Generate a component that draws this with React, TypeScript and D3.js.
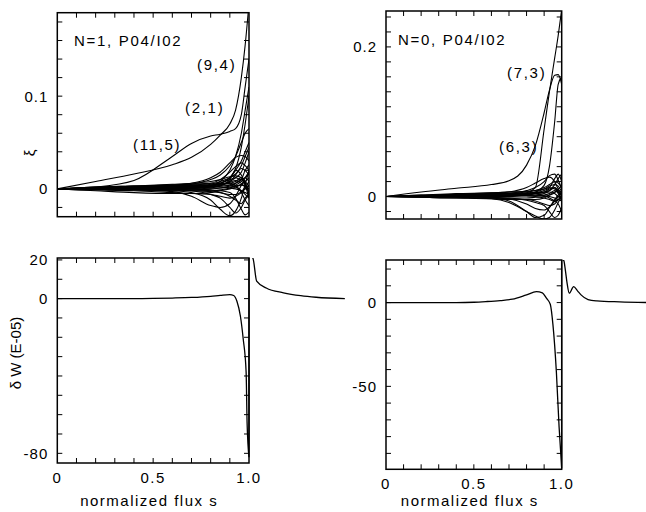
import React from 'react';
import * as d3 from 'd3';

// Radial sample points of the normalized flux s used by every displacement profile
const S_GRID = [0, 0.2, 0.4, 0.6, 0.7, 0.8, 0.85, 0.9, 0.93, 0.96, 0.98, 1.0];

// ξ profiles, N=1 family (one row per Fourier harmonic)
const XI_N1: number[][] = [
  [0, 0.008, 0.016, 0.026, 0.034, 0.048, 0.058, 0.07, 0.085, 0.12, 0.155, 0.2],
  [0, 0.002, 0.009, 0.035, 0.049, 0.057, 0.059, 0.062, 0.065, 0.08, 0.11, 0.14],
  [0, 0, 0, 0, 0.001, 0.003, 0.008, 0.02, 0.035, 0.06, 0.085, 0.11],
  [0, 0, 0, 0, 0.001, 0.003, 0.006, 0.012, 0.022, 0.045, 0.07, 0.1],
  [0, 0, 0.001, 0.003, 0.005, 0.01, 0.015, 0.025, 0.035, 0.05, 0.06, 0.065],
  [0, 0.001, 0.002, 0.004, 0.006, 0.012, 0.018, 0.028, 0.034, 0.036, 0.035, 0.03],
  [0, 0.001, 0.002, 0.003, 0.004, 0.006, 0.01, 0.018, 0.024, 0.028, 0.025, 0.02],
  [0, 0, 0.001, 0.002, 0.003, 0.005, 0.008, 0.012, 0.016, 0.022, 0.02, 0.015],
  [0, 0, 0, 0.001, 0.002, 0.004, 0.006, 0.01, 0.012, 0.01, 0.012, 0.008],
  [0, 0, 0, 0, -0.001, -0.002, -0.004, -0.008, -0.012, -0.016, -0.01, -0.005],
  [0, -0.001, -0.002, -0.004, -0.005, -0.006, -0.008, -0.01, -0.008, -0.004, 0, 0.004],
  [0, 0, -0.001, -0.002, -0.004, -0.012, -0.022, -0.029, -0.024, -0.01, 0.005, 0.02],
  [0, 0, -0.001, -0.003, -0.008, -0.018, -0.02, -0.016, -0.008, 0.004, 0.012, 0.018],
  [0, 0, 0, -0.001, -0.002, -0.006, -0.01, -0.02, -0.026, -0.02, -0.012, -0.006],
  [0, 0.001, 0.001, 0.002, 0.003, 0.004, 0.006, 0.012, 0.02, 0.03, 0.04, 0.05],
  [0, 0, 0.001, 0.001, 0.002, 0.003, 0.005, 0.008, 0.015, 0.025, 0.035, 0.045],
  [0, 0, 0, 0.001, 0.001, 0.002, 0.004, 0.006, 0.004, -0.004, -0.012, -0.018],
  [0, 0, 0, 0, 0.001, 0.002, 0.003, 0.004, 0.006, 0.01, 0.02, 0.026],
  [0, -0.002, -0.004, -0.005, -0.005, -0.004, -0.002, 0, 0.002, 0.004, 0.003, 0],
  [0, 0.002, 0.003, 0.004, 0.005, 0.006, 0.006, 0.005, 0.002, -0.002, -0.006, -0.01],
  [0, 0, 0, 0, 0, 0.001, 0.003, 0.01, 0.02, 0.015, 0.005, -0.005],
  [0, 0, 0, 0, 0, -0.001, -0.002, -0.004, -0.01, -0.022, -0.028, -0.025],
  [0, 0, 0, 0, 0.001, 0.002, 0.004, 0.008, 0.012, 0.018, 0.028, 0.04],
  [0, 0.001, 0.002, 0.003, 0.003, 0.003, 0.002, 0.001, 0, -0.002, -0.004, -0.006],
  [0, -0.001, -0.001, -0.002, -0.002, -0.002, -0.001, 0.001, 0.004, 0.008, 0.012, 0.016],
  [0, 0.002, 0.003, 0.004, 0.004, 0.004, 0.005, 0.006, 0.008, 0.012, 0.006, -0.004],
  [0, 0.001, 0.002, 0.002, 0.003, 0.004, 0.005, 0.007, 0.009, 0.006, 0.002, 0],
  [0, -0.001, -0.001, -0.001, -0.001, 0, 0.001, 0.003, 0.006, 0.01, 0.004, -0.01],
  [0, 0.001, 0.001, 0.001, 0.001, 0.001, 0.001, 0.002, 0.003, 0.005, 0.008, 0.012],
  [0, 0, -0.001, -0.001, -0.002, -0.003, -0.004, -0.006, -0.006, -0.003, 0.002, 0.008],
  [0, 0.001, 0.003, 0.005, 0.006, 0.008, 0.01, 0.013, 0.014, 0.012, 0.008, 0.002],
];

// ξ profiles, N=0 family
const XI_N0: number[][] = [
  [0, 0, 0, 0.001, 0.002, 0.005, 0.012, 0.09, 0.14, 0.185, 0.215, 0.25],
  [0, 0.006, 0.011, 0.016, 0.021, 0.042, 0.068, 0.112, 0.142, 0.162, 0.163, 0.15],
  [0, 0, 0, 0, 0.001, 0.003, 0.006, 0.015, 0.04, 0.1, 0.15, 0.16],
  [0, 0, 0, -0.002, -0.006, -0.02, -0.028, -0.025, -0.015, -0.004, 0.002, 0.005],
  [0, 0, -0.001, -0.003, -0.008, -0.02, -0.026, -0.03, -0.028, -0.018, -0.008, 0],
  [0, 0, 0, -0.001, -0.003, -0.01, -0.016, -0.018, -0.014, -0.006, 0, 0.004],
  [0, 0, 0, -0.001, -0.002, -0.005, -0.008, -0.012, -0.02, -0.028, -0.025, -0.015],
  [0, 0.001, 0.002, 0.004, 0.006, 0.012, 0.018, 0.024, 0.026, 0.02, 0.01, 0.005],
  [0, 0, 0.001, 0.002, 0.004, 0.008, 0.012, 0.02, 0.028, 0.03, 0.022, 0.01],
  [0, 0.001, 0.002, 0.003, 0.004, 0.006, 0.008, 0.012, 0.016, 0.02, 0.018, 0.012],
  [0, 0, 0, 0.001, 0.002, 0.003, 0.005, 0.008, 0.012, 0.024, 0.03, 0.02],
  [0, -0.001, -0.002, -0.003, -0.004, -0.004, -0.004, -0.002, 0.002, 0.006, 0.008, 0.004],
  [0, 0.001, 0.002, 0.002, 0.002, 0.001, 0, -0.002, -0.004, -0.006, -0.004, -0.002],
  [0, 0, 0, 0, 0.001, 0.002, 0.004, 0.006, 0.01, 0.012, 0.008, 0],
  [0, -0.001, -0.002, -0.002, -0.003, -0.004, -0.006, -0.01, -0.012, -0.01, -0.004, 0],
  [0, 0.002, 0.004, 0.005, 0.006, 0.006, 0.004, 0.001, -0.002, -0.006, -0.01, -0.02],
  [0, 0, 0, 0, 0, 0.001, 0.002, 0.004, 0.008, 0.016, 0.024, 0.03],
  [0, 0, 0, 0.001, 0.002, 0.004, 0.006, 0.01, 0.014, 0.016, 0.014, 0.006],
  [0, 0.001, 0.002, 0.003, 0.003, 0.003, 0.002, 0.001, 0, -0.002, -0.004, -0.006],
  [0, 0.002, 0.003, 0.004, 0.004, 0.004, 0.005, 0.006, 0.008, 0.012, 0.006, -0.004],
  [0, 0.001, 0.003, 0.005, 0.006, 0.007, 0.008, 0.01, 0.012, 0.01, 0.006, 0.002],
  [0, 0.001, 0.001, 0.002, 0.002, 0.003, 0.004, 0.005, 0.006, 0.004, 0, -0.004],
  [0, -0.001, -0.001, -0.002, -0.002, -0.002, -0.001, 0, 0.002, 0.005, 0.01, 0.014],
  [0, 0, 0.001, 0.001, 0.001, 0.001, 0.001, 0.002, 0.004, 0.008, 0.004, -0.006],
];

// δW (E-05), N=1: plasma part and vacuum part
const DW_N1_PLASMA_S = [0, 0.2, 0.4, 0.5, 0.6, 0.7, 0.8, 0.85, 0.9, 0.92, 0.937, 0.955, 0.97, 0.985, 0.99, 1.0];
const DW_N1_PLASMA = [0, 0, 0, 0.1, 0.3, 0.6, 1.2, 1.7, 2.1, 1.6, -1.4, -9, -21, -38, -64, -82];
const DW_N1_VACUUM_S = [1.0, 1.02, 1.04, 1.09, 1.18, 1.27, 1.35, 1.5];
const DW_N1_VACUUM = [22, 21, 9, 5.5, 3, 1.5, 0.7, 0];

// δW (E-05), N=0
const DW_N0_PLASMA_S = [0, 0.2, 0.4, 0.5, 0.57, 0.65, 0.72, 0.8, 0.856, 0.89, 0.913, 0.935, 0.95, 0.97, 0.985, 1.0];
const DW_N0_PLASMA = [0, 0, 0, 0.2, 0.6, 1.2, 2, 4.6, 6.5, 5.8, 2.6, -1, -13, -42, -74, -99];
const DW_N0_VACUUM_S = [1.0, 1.012, 1.02, 1.03, 1.043, 1.068, 1.09, 1.11, 1.15, 1.2, 1.33, 1.5];
const DW_N0_VACUUM = [26, 25, 20, 12, 5.6, 9.5, 7, 4.6, 1.8, 1, 0.4, 0];

// Axis ticks and labels
const X_TICKS = [0.1, 0.2, 0.3, 0.4, 0.5, 0.6, 0.7, 0.8, 0.9];
const X_LABELS = [0, 0.5, 1.0];
const X_LABEL_TEXT = ['0', '0.5', '1.0'];
const TL_Y_TICKS = [-0.02, 0, 0.02, 0.04, 0.06, 0.08, 0.1, 0.12, 0.14, 0.16, 0.18];
const TL_Y_LABELS = [0, 0.1];
const TL_Y_TEXT = ['0', '0.1'];
const TR_Y_TICKS = [-0.02, 0, 0.02, 0.04, 0.06, 0.08, 0.1, 0.12, 0.14, 0.16, 0.18, 0.2, 0.22, 0.24];
const TR_Y_LABELS = [0, 0.2];
const TR_Y_TEXT = ['0', '0.2'];
const BL_Y_TICKS = [-80, -70, -60, -50, -40, -30, -20, -10, 0, 10, 20];
const BL_Y_LABELS = [-80, 0, 20];
const BL_Y_TEXT = ['-80', '0', '20'];
const BR_Y_TICKS = [-90, -80, -70, -60, -50, -40, -30, -20, -10, 0, 10, 20];
const BR_Y_LABELS = [-50, 0];
const BR_Y_TEXT = ['-50', '0'];

// Harmonic labels
const N1_MODES = ['(9,4)', '(2,1)', '(11,5)'];
const N1_MODE_POS = [[197, 70], [185, 113], [133, 150]];
const N0_MODES = ['(7,3)', '(6,3)'];
const N0_MODE_POS = [[507, 78], [499, 152]];

const W = 646;
const H = 512;
const FONT = "'Liberation Sans', Arial, Helvetica, sans-serif";

type Box = { x0: number; x1: number; y0: number; y1: number };

const TL: Box = { x0: 57.3, x1: 249, y0: 12.7, y1: 216.7 };
const TR: Box = { x0: 386, x1: 561.7, y0: 11, y1: 219 };
const BL: Box = { x0: 57.3, x1: 249, y0: 258, y1: 463 };
const BR: Box = { x0: 386, x1: 561.7, y0: 260, y1: 469.3 };

const TICK = 5;

function Frame({ box, x, y, yTicks }: { box: Box; x: d3.ScaleLinear<number, number>; y: d3.ScaleLinear<number, number>; yTicks: number[] }) {
  const items: React.ReactNode[] = [];
  X_TICKS.forEach((t, i) => {
    const px = x(t);
    items.push(<line key={`xb${i}`} x1={px} x2={px} y1={box.y1} y2={box.y1 - TICK} />);
    items.push(<line key={`xt${i}`} x1={px} x2={px} y1={box.y0} y2={box.y0 + TICK} />);
  });
  yTicks.forEach((t, i) => {
    const py = y(t);
    items.push(<line key={`yl${i}`} x1={box.x0} x2={box.x0 + TICK} y1={py} y2={py} />);
    items.push(<line key={`yr${i}`} x1={box.x1} x2={box.x1 - TICK} y1={py} y2={py} />);
  });
  return (
    <g stroke="#000" fill="none">
      <g strokeWidth={1}>{items}</g>
      <rect x={box.x0} y={box.y0} width={box.x1 - box.x0} height={box.y1 - box.y0} strokeWidth={1.5} />
    </g>
  );
}

function YLabels({ box, y, values, texts }: { box: Box; y: d3.ScaleLinear<number, number>; values: number[]; texts: string[] }) {
  return (
    <g fontFamily={FONT} fontSize={15} textAnchor="end" fill="#000" style={{ letterSpacing: '1px' }}>
      {values.map((v, i) => (
        <text key={i} x={box.x0 - 9} y={y(v)} dy="0.36em">{texts[i]}</text>
      ))}
    </g>
  );
}

function XLabels({ box, x }: { box: Box; x: d3.ScaleLinear<number, number> }) {
  return (
    <g fontFamily={FONT} fontSize={15} textAnchor="middle" fill="#000" style={{ letterSpacing: '1.5px' }}>
      {X_LABELS.map((v, i) => (
        <text key={i} x={x(v)} y={box.y1 + 20}>{X_LABEL_TEXT[i]}</text>
      ))}
      <text x={(box.x0 + box.x1) / 2 - 4} y={506}>normalized flux s</text>
    </g>
  );
}

export default function App() {
  const xL = d3.scaleLinear().domain([0, 1]).range([TL.x0, TL.x1]);
  const xR = d3.scaleLinear().domain([0, 1]).range([TR.x0, TR.x1]);
  const yTL = d3.scaleLinear().domain([-0.03, 0.19]).range([TL.y1, TL.y0]);
  const yTR = d3.scaleLinear().domain([-0.03, 0.248]).range([TR.y1, TR.y0]);
  const yBL = d3.scaleLinear().domain([-85, 21]).range([BL.y1, BL.y0]);
  const yBR = d3.scaleLinear().domain([-99.5, 25.4]).range([BR.y1, BR.y0]);

  const profile = (xs: d3.ScaleLinear<number, number>, ys: d3.ScaleLinear<number, number>) =>
    d3.line<[number, number]>().x((d) => xs(d[0])).y((d) => ys(d[1])).curve(d3.curveMonotoneX);

  const lineTL = profile(xL, yTL);
  const lineTR = profile(xR, yTR);
  const lineBL = profile(xL, yBL);
  const lineBR = profile(xR, yBR);

  const pairs = (s: number[], v: number[]) => s.map((d, i) => [d, v[i]] as [number, number]);

  const dwPath = (
    line: d3.Line<[number, number]>,
    xs: d3.ScaleLinear<number, number>,
    ys: d3.ScaleLinear<number, number>,
    ps: number[], pv: number[], vs: number[], vv: number[]
  ) => {
    const a = line(pairs(ps, pv)) || '';
    const b = line(pairs(vs, vv)) || '';
    const jump = `M${xs(ps[ps.length - 1])},${ys(pv[pv.length - 1])}L${xs(vs[0])},${ys(vv[0])}`;
    return a + jump + b;
  };

  return (
    <svg width={W} height={H} viewBox={`0 0 ${W} ${H}`} style={{ position: 'absolute', left: 0, top: 0, background: '#fff' }}>
      <defs>
        <clipPath id="clip-tl"><rect x={TL.x0} y={TL.y0} width={TL.x1 - TL.x0} height={TL.y1 - TL.y0} /></clipPath>
        <clipPath id="clip-tr"><rect x={TR.x0} y={TR.y0} width={TR.x1 - TR.x0} height={TR.y1 - TR.y0} /></clipPath>
        <clipPath id="clip-bl"><rect x={BL.x0} y={BL.y0} width={W - BL.x0} height={BL.y1 - BL.y0} /></clipPath>
        <clipPath id="clip-br"><rect x={BR.x0} y={BR.y0} width={W - BR.x0} height={BR.y1 - BR.y0} /></clipPath>
      </defs>
      <rect x={0} y={0} width={W} height={H} fill="#fff" />

      {/* ξ profiles, N=1 */}
      <g clipPath="url(#clip-tl)" fill="none" stroke="#000" strokeWidth={1.1}>
        {XI_N1.map((c, i) => (
          <path key={i} d={lineTL(pairs(S_GRID, c)) || ''} />
        ))}
      </g>
      <Frame box={TL} x={xL} y={yTL} yTicks={TL_Y_TICKS} />
      <YLabels box={TL} y={yTL} values={TL_Y_LABELS} texts={TL_Y_TEXT} />

      {/* ξ profiles, N=0 */}
      <g clipPath="url(#clip-tr)" fill="none" stroke="#000" strokeWidth={1.1}>
        {XI_N0.map((c, i) => (
          <path key={i} d={lineTR(pairs(S_GRID, c)) || ''} />
        ))}
      </g>
      <Frame box={TR} x={xR} y={yTR} yTicks={TR_Y_TICKS} />
      <YLabels box={TR} y={yTR} values={TR_Y_LABELS} texts={TR_Y_TEXT} />

      {/* δW, N=1 */}
      <Frame box={BL} x={xL} y={yBL} yTicks={BL_Y_TICKS} />
      <g clipPath="url(#clip-bl)" fill="none" stroke="#000" strokeWidth={1.3}>
        <path d={dwPath(lineBL, xL, yBL, DW_N1_PLASMA_S, DW_N1_PLASMA, DW_N1_VACUUM_S, DW_N1_VACUUM)} />
      </g>
      <YLabels box={BL} y={yBL} values={BL_Y_LABELS} texts={BL_Y_TEXT} />
      <XLabels box={BL} x={xL} />

      {/* δW, N=0 */}
      <Frame box={BR} x={xR} y={yBR} yTicks={BR_Y_TICKS} />
      <g clipPath="url(#clip-br)" fill="none" stroke="#000" strokeWidth={1.3}>
        <path d={dwPath(lineBR, xR, yBR, DW_N0_PLASMA_S, DW_N0_PLASMA, DW_N0_VACUUM_S, DW_N0_VACUUM)} />
      </g>
      <YLabels box={BR} y={yBR} values={BR_Y_LABELS} texts={BR_Y_TEXT} />
      <XLabels box={BR} x={xR} />

      {/* titles and harmonic labels */}
      <g fontFamily={FONT} fontSize={15} fill="#000" style={{ letterSpacing: '1.7px' }}>
        <text x={74} y={46}>N=1, P04/I02</text>
        <text x={398} y={45}>N=0, P04/I02</text>
        {N1_MODES.map((m, i) => (
          <text key={m} x={N1_MODE_POS[i][0]} y={N1_MODE_POS[i][1]}>{m}</text>
        ))}
        {N0_MODES.map((m, i) => (
          <text key={m} x={N0_MODE_POS[i][0]} y={N0_MODE_POS[i][1]}>{m}</text>
        ))}
      </g>
      <g fontFamily={FONT} fontSize={15} fill="#000" textAnchor="middle">
        <text transform="translate(35,153) rotate(-90)">ξ</text>
        <text transform="translate(21,353) rotate(-90)">δ W (E-05)</text>
      </g>
    </svg>
  );
}
